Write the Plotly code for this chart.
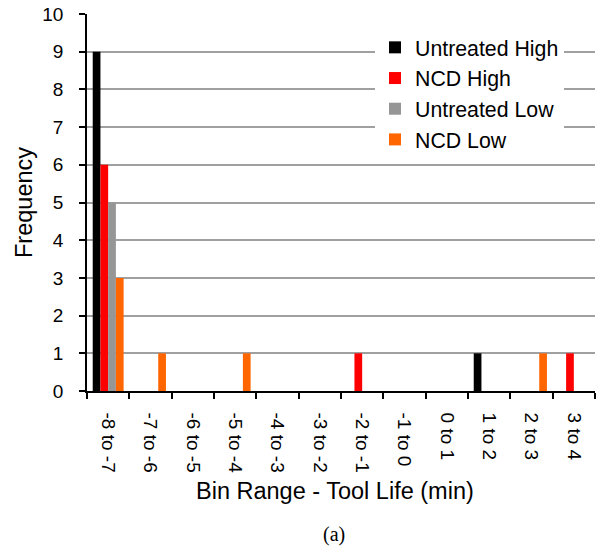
import plotly.graph_objects as go

categories = ["-8 to -7", "-7 to -6", "-6 to -5", "-5 to -4", "-4 to -3", "-3 to -2",
              "-2 to -1", "-1 to 0", "0 to 1", "1 to 2", "2 to 3", "3 to 4"]
untreated_high = [9, 0, 0, 0, 0, 0, 0, 0, 0, 1, 0, 0]
ncd_high = [6, 0, 0, 0, 0, 0, 1, 0, 0, 0, 0, 1]
untreated_low = [5, 0, 0, 0, 0, 0, 0, 0, 0, 0, 0, 0]
ncd_low = [3, 1, 0, 1, 0, 0, 0, 0, 0, 0, 1, 0]
y_ticks = list(range(0, 11))

series = [
    ("Untreated High", untreated_high, "#000000"),
    ("NCD High", ncd_high, "#FF0000"),
    ("Untreated Low", untreated_low, "#969696"),
    ("NCD Low", ncd_low, "#FF6600"),
]

FONT = "Liberation Sans, Arial, sans-serif"
SERIF = "Liberation Serif, Times New Roman, serif"

# plot area in pixels
L, R, T, B = 87, 10, 14, 161
W, H = 605, 552
PW = W - L - R
PH = H - T - B


def px_x(x):
    return (x - L) / PW


def px_y(y):
    return (H - B - y) / PH


fig = go.Figure()
for name, vals, col in series:
    fig.add_trace(go.Bar(x=categories, y=vals, name=name, marker_color=col,
                         marker_line_width=0))

fig.update_layout(
    width=W, height=H,
    margin=dict(l=L, r=R, t=T, b=B),
    paper_bgcolor="white", plot_bgcolor="white",
    barmode="group", bargap=0.27, bargroupgap=0,
    font=dict(family=FONT, color="black", size=19),
    legend=dict(x=px_x(375), y=px_y(27), xanchor="left", yanchor="top",
                bgcolor="white", font=dict(size=21.3, family=FONT),
                itemwidth=30, tracegroupgap=0),
    annotations=[
        dict(text="Bin Range - Tool Life (min)", x=px_x(334.5), y=px_y(491),
             xref="paper", yref="paper", xanchor="center", yanchor="middle",
             showarrow=False, font=dict(family=FONT, size=23.5)),
        dict(text="Frequency", x=px_x(24), y=px_y(203), textangle=-90,
             xref="paper", yref="paper", xanchor="center", yanchor="middle",
             showarrow=False, font=dict(family=FONT, size=23.5)),
        dict(text="(a)", x=px_x(334), y=px_y(534),
             xref="paper", yref="paper", xanchor="center", yanchor="middle",
             showarrow=False, font=dict(family=SERIF, size=20)),
    ],
)
fig.update_xaxes(
    type="category", range=[-0.5, 11.5],
    showline=True, linecolor="black", linewidth=1.5,
    ticks="outside", ticklen=6, tickcolor="black", tickwidth=1.5,
    tickson="boundaries", tickangle=90,
    tickfont=dict(size=19), ticklabelstandoff=16,
    showgrid=False,
    automargin=False,
)
fig.update_yaxes(
    range=[0, 10], tickvals=y_ticks,
    showline=True, linecolor="black", linewidth=1.5,
    ticks="outside", ticklen=6, tickcolor="black", tickwidth=1.5,
    tickfont=dict(size=19), ticklabelstandoff=12,
    showgrid=True, gridcolor="#a0a0a0", gridwidth=1.5,
    zeroline=False,
    automargin=False,
)

fig.write_html("out.html")
